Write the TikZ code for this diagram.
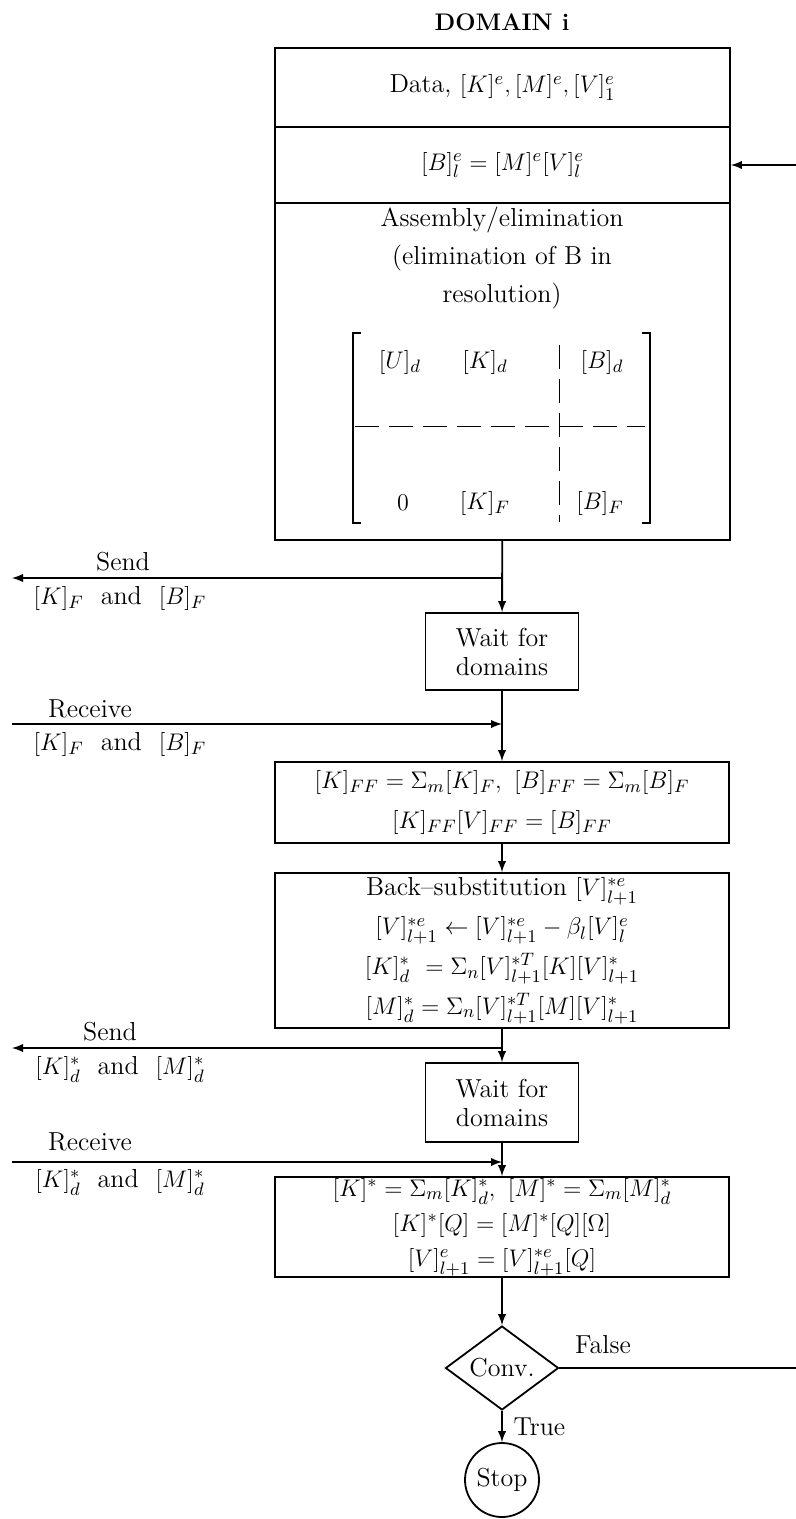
\documentclass[tikz,border=0pt]{standalone}
\usepackage{amsmath,amssymb}
\usepackage{tikz}
\usetikzlibrary{shapes,arrows}

\begin{document}
\begin{tikzpicture}[x=0.5pt,y=-0.5pt,>=latex,line width=0.9pt,
	font=\fontsize{13}{19}\selectfont,
	cell/.style={draw,rectangle,minimum width=227.5pt,inner sep=0pt,align=center},
	procbox/.style={draw,rectangle,minimum width=227pt,inner sep=0pt,align=center,
		font=\fontsize{13}{19.8}\selectfont},
	waitbox/.style={draw,rectangle,minimum width=76.5pt,minimum height=38.5pt,inner sep=0pt,
		align=center,font=\fontsize{13}{14.5}\selectfont},
	decision/.style={draw,diamond,minimum width=56.5pt,minimum height=36.5pt,inner sep=0pt},
	stopnode/.style={draw,circle,minimum size=37pt,inner sep=0pt},
	entry/.style={inner sep=1pt},
	msg/.style={inner sep=1pt}]
	\useasboundingbox (0,0) rectangle (796,1519);

	\node[font=\fontsize{12}{14}\selectfont\bfseries] (title) at (502,22) {DOMAIN i};

	% domain block
	\node[cell,minimum height=39.5pt] (data) at (502.5,87.5) {Data, $[K]^e, [M]^e, [V]^e_1$};
	\node[cell,minimum height=38pt] (rhs) at (502.5,165) {$[B]^e_l = [M]^e[V]^e_l$};
	\node[cell,minimum height=168.5pt] (asm) at (502.5,371.5) {};
	\node[align=center] (asmtxt) at (502,258) {Assembly/elimination\\(elimination of B in\\resolution)};

	\node[entry] (u_d) at (400,362) {$[U]_d$};
	\node[entry] (k_d) at (485,362) {$[K]_d$};
	\node[entry] (b_d) at (602,362) {$[B]_d$};
	\node[entry] (zero) at (403,503) {$0$};
	\node[entry] (k_F) at (485,503) {$[K]_F$};
	\node[entry] (b_F) at (600,503) {$[B]_F$};
	\draw[line width=0.7pt] (361,333) -- (353,333) -- (353,523) -- (361,523);
	\draw[line width=0.7pt] (642,333) -- (650,333) -- (650,523) -- (642,523);
	\draw[line width=0.5pt,dash pattern=on 12pt off 5pt] (355,426) -- (645,426);
	\draw[line width=0.5pt,dash pattern=on 12pt off 5pt] (559,345) -- (559,522);

	% column
	\node[waitbox] (w_1) at (502,651.5) {Wait for\\domains};
	\node[procbox,minimum height=40.5pt] (solve) at (502,802.5)
		{$[K]_{FF} = \Sigma_m[K]_F,\ [B]_{FF} = \Sigma_m[B]_F$\\$[K]_{FF}[V]_{FF} = [B]_{FF}$};
	\node[procbox,minimum height=77.5pt] (back) at (502,950.5)
		{Back--substitution $[V]^{*e}_{l+1}$\\
		$[V]^{*e}_{l+1} \leftarrow [V]^{*e}_{l+1} - \beta_l[V]^e_l$\\
		$[K]^*_d\ = \Sigma_n[V]^{*T}_{l+1}[K][V]^*_{l+1}$\\
		$[M]^*_d = \Sigma_n[V]^{*T}_{l+1}[M][V]^*_{l+1}$};
	\node[waitbox,minimum height=39.5pt] (w_2) at (502,1102.5) {Wait for\\domains};
	\node[procbox,minimum height=50pt,font=\fontsize{13}{17.5}\selectfont] (eig) at (502,1227)
		{$[K]^* = \Sigma_m[K]^*_d,\ [M]^* = \Sigma_m[M]^*_d$\\
		$[K]^*[Q] = [M]^*[Q][\Omega]$\\
		$[V]^e_{l+1} = [V]^{*e}_{l+1}[Q]$};
	\node[decision] (conv) at (502,1368) {Conv.};
	\node[stopnode] (stop) at (502,1480) {Stop};

	\path[->]
	(asm) edge (w_1)
	(w_1) edge (solve)
	(solve) edge (back)
	(back) edge (w_2)
	(w_2) edge (eig)
	(eig) edge (conv)
	(conv) edge node[right,xshift=2pt] {True} (stop);

	% messages
	\coordinate (s_1) at (502,578);
	\coordinate (s_1end) at (12,578);
	\draw[->] (s_1) -- (s_1end);
	\node[msg] (s_1top) at (123,562) {Send};
	\node[msg] (s_1bot) at (120,598) {$[K]_F$\ \ and\ \ $[B]_F$};

	\coordinate (r_1start) at (12,724);
	\coordinate (r_1) at (502,724);
	\draw[->] (r_1start) -- (r_1);
	\node[msg] (r_1top) at (90,709) {Receive};
	\node[msg] (r_1bot) at (120,744) {$[K]_F$\ \ and\ \ $[B]_F$};

	\coordinate (s_2) at (502,1048);
	\coordinate (s_2end) at (12,1048);
	\draw[->] (s_2) -- (s_2end);
	\node[msg] (s_2top) at (110,1032) {Send};
	\node[msg] (s_2bot) at (120,1069) {$[K]^*_d$\ \ and\ \ $[M]^*_d$};

	\coordinate (r_2start) at (12,1162);
	\coordinate (r_2) at (502,1162);
	\draw[->] (r_2start) -- (r_2);
	\node[msg] (r_2top) at (90,1142) {Receive};
	\node[msg] (r_2bot) at (120,1182) {$[K]^*_d$\ \ and\ \ $[M]^*_d$};

	% loop back
	\coordinate (f_end) at (796,1368);
	\draw (conv.east) -- (f_end);
	\node[msg] (falselab) at (603,1345) {False};
	\coordinate (f_in) at (796,165);
	\draw[->] (f_in) -- (rhs.east);
\end{tikzpicture}
\end{document}
